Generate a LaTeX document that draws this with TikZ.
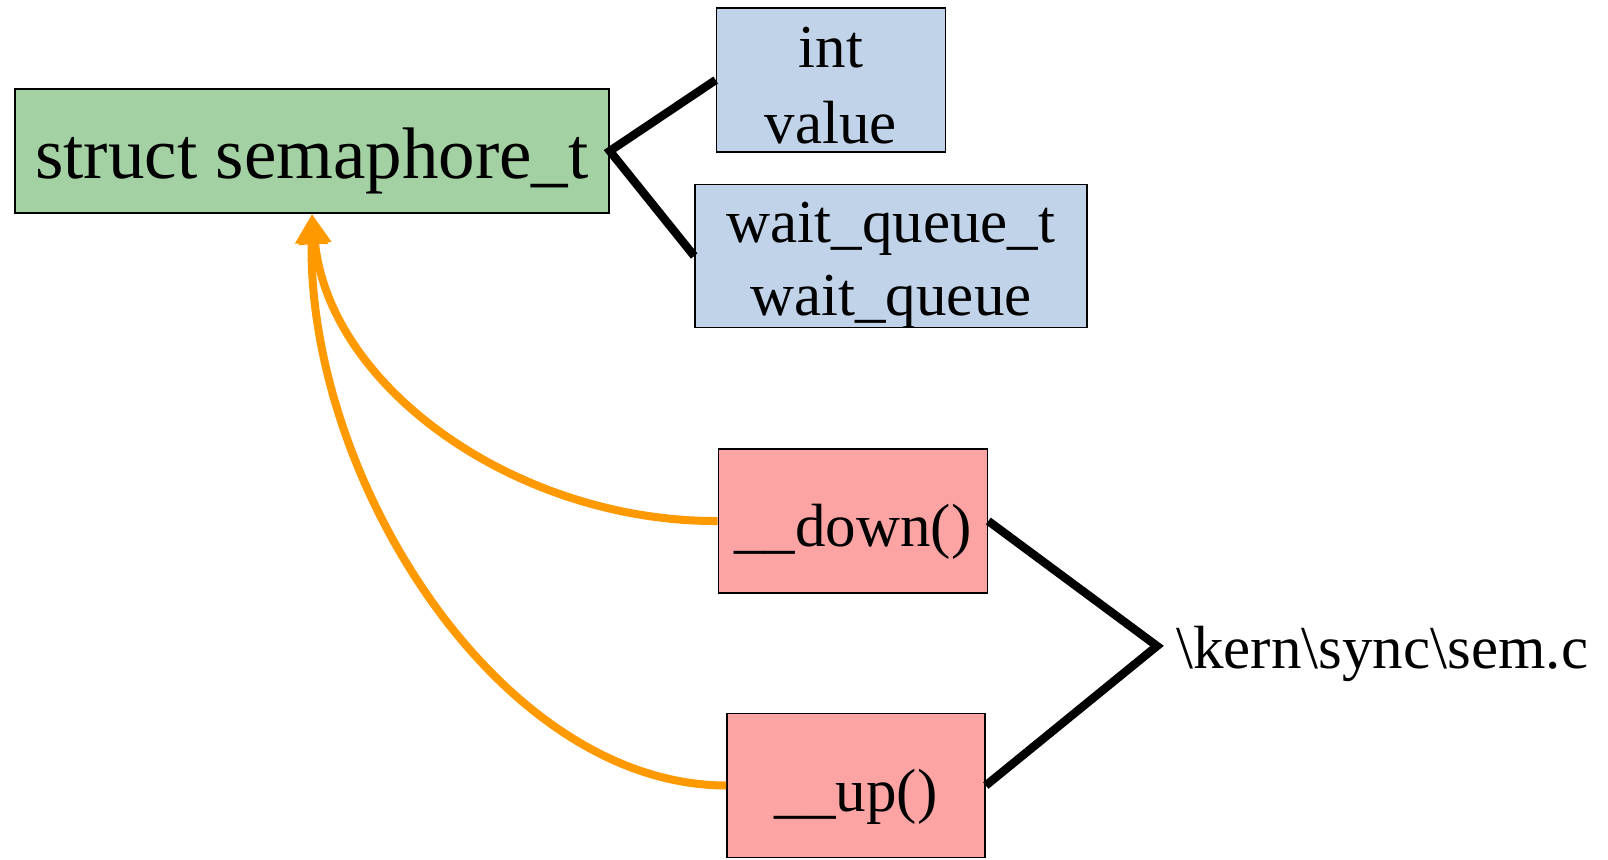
\documentclass[tikz,border=0pt]{standalone}
\usepackage{fontspec}
\setmainfont{Liberation Serif}
\usetikzlibrary{arrows.meta}
\definecolor{boxgreen}{RGB}{164,209,164}
\definecolor{boxblue}{RGB}{192,211,233}
\definecolor{boxpink}{RGB}{252,164,164}
\definecolor{arrorange}{RGB}{255,153,0}
\tikzset{
  base/.style={draw=black, line width=0.8pt, inner sep=0pt, align=center,
    font=\fontsize{30.5pt}{38pt}\selectfont},
  greenbox/.style={base, fill=boxgreen, font=\fontsize{36.5pt}{44pt}\selectfont},
  bluebox/.style={base, fill=boxblue},
  pinkbox/.style={base, fill=boxpink},
  link/.style={line width=4.2pt, line join=miter},
  calls/.style={draw=arrorange, line width=4pt, -{Triangle[width=15.5pt,length=15pt]}},
}
\begin{document}
\begin{tikzpicture}[x=0.5pt, y=-0.5pt]
\useasboundingbox (0,0) rectangle (1608,859);
\node[greenbox, minimum width=297pt, minimum height=62pt, text height=35pt, text depth=8pt] (sem) at (312,151) {struct semaphore\_t};
\node[bluebox, minimum width=114.5pt, minimum height=72pt, font=\fontsize{30.5pt}{38pt}\selectfont] (val) at (831,80) {\rule{0pt}{29.5pt}int\\\smash{value}\rule[-4.5pt]{0pt}{4.5pt}};
\node[bluebox, minimum width=196pt, minimum height=71.5pt, font=\fontsize{30.5pt}{36.5pt}\selectfont] (wq) at (891,256) {\rule{0pt}{28.5pt}wait\_queue\_t\\\smash{wait\_queue}\rule[-6pt]{0pt}{6pt}};
\node[pinkbox, minimum width=134.5pt, minimum height=72pt, text height=33.5pt, text depth=8pt] (down) at (853,521) {\_\_down()};
\node[pinkbox, minimum width=129pt, minimum height=72pt, text height=33.5pt, text depth=8pt] (up) at (856,785.5) {\_\_up()};
\node[font=\fontsize{30.5pt}{38pt}\selectfont, inner sep=0pt, anchor=base west] (file) at (1176,668) {\textbackslash kern\textbackslash sync\textbackslash sem.c};
\coordinate (j) at (1157,646);
\draw[link] (val.west) -- (sem.east) -- (wq.west);
\draw[link] (down.east) -- (j) -- (up.east);
\draw[calls] (down.west) .. controls (520,522) and (330,390) .. (sem.south);
\draw[calls] (up.west) .. controls (500,785) and (308,480) .. (sem.south);
\end{tikzpicture}
\end{document}
